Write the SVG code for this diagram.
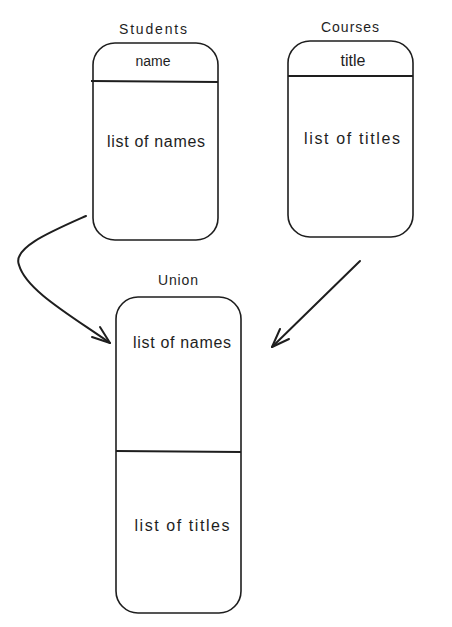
<svg xmlns="http://www.w3.org/2000/svg" width="452" height="627" viewBox="0 0 452 627">
<style>
.box{fill:#fff;stroke:#1e1e1e;stroke-width:1.6}
.div{stroke:#1e1e1e;stroke-width:2;fill:none}
.lbl{font-family:"Liberation Sans","DejaVu Sans",sans-serif;fill:#1e1e1e;text-anchor:middle}
.t{font-size:14px}
.h{font-size:14px}
.b{font-size:16px}
.con{fill:none;stroke:#1e1e1e;stroke-width:2;stroke-linecap:round;stroke-linejoin:round}
</style>
<rect width="452" height="627" fill="#fff"/>
<g id="students">
<text class="lbl t" x="153" y="34" textLength="68" lengthAdjust="spacing">Students</text>
<rect class="box" x="93" y="43" width="125" height="197" rx="22"/>
<line class="div" x1="91" y1="81" x2="218" y2="82"/>
<text class="lbl h" x="153" y="66" textLength="35" lengthAdjust="spacing">name</text>
<text class="lbl b" x="156" y="147" textLength="98" lengthAdjust="spacing">list of names</text>
</g>
<g id="courses">
<text class="lbl t" x="350" y="32" textLength="58" lengthAdjust="spacing">Courses</text>
<rect class="box" x="288" y="41" width="125" height="196" rx="22"/>
<line class="div" x1="288" y1="76" x2="413" y2="76"/>
<text class="lbl b" x="353" y="66">title</text>
<text class="lbl b" x="352" y="144" textLength="96" lengthAdjust="spacing">list of titles</text>
</g>
<g id="union">
<text class="lbl t" x="178" y="285" textLength="40" lengthAdjust="spacing">Union</text>
<rect class="box" x="116" y="297" width="125" height="316" rx="22"/>
<line class="div" x1="116" y1="451" x2="241" y2="452"/>
<text class="lbl b" x="182" y="348" textLength="98" lengthAdjust="spacing">list of names</text>
<text class="lbl b" x="182" y="531" textLength="95" lengthAdjust="spacing">list of titles</text>
</g>
<g id="connectors">
<path class="con" d="M86 216 C 50 232, 12 248, 19 265 C 26 290, 70 315, 110 343"/>
<path class="con" d="M92 337 L110 343 L100 327"/>
<path class="con" d="M360 261 L272 347"/>
<path class="con" d="M289 339 L272 347 L280 329"/>
</g>
</svg>
